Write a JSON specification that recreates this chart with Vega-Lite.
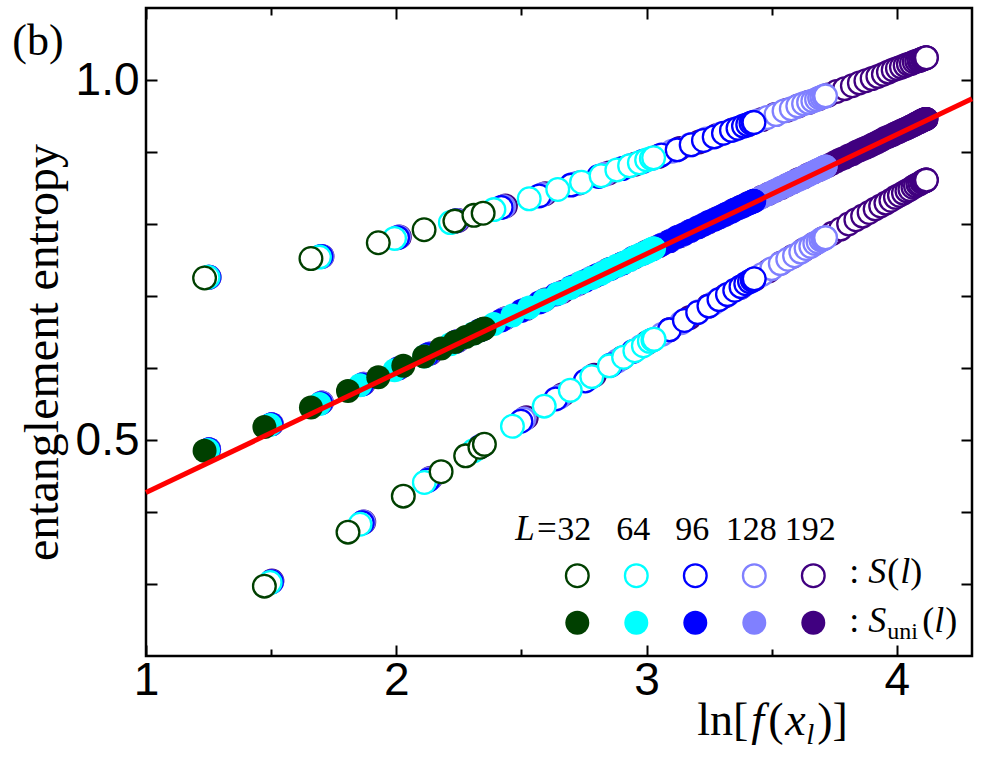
{
"$schema": "https://vega.github.io/schema/vega-lite/v6.json",
"width": 826, "height": 648,
"autosize": {"type": "none"},
"padding": {"left": 146, "top": 8, "right": 14, "bottom": 103},
"background": "white",
"config": {"view": {"stroke": "black", "strokeWidth": 2.5}, "axis": {"domain": false, "grid": false, "tickColor": "black", "tickWidth": 2, "labelColor": "black", "titleColor": "black", "labelFont": "Liberation Sans", "labelFontSize": 46, "labelFontWeight": "normal"}},
"datasets": {
"pts": [
{"L":"192","l":3,"x":1.252,"S":0.726,"Su":0.487},{"L":"192","l":4,"x":1.503,"S":0.304,"Su":0.522},{"L":"192","l":5,"x":1.703,"S":0.755,"Su":0.552},{"L":"192","l":6,"x":1.870,"S":0.386,"Su":0.578},{"L":"192","l":7,"x":2.012,"S":0.782,"Su":0.600},{"L":"192","l":8,"x":2.137,"S":0.447,"Su":0.620},{"L":"192","l":9,"x":2.247,"S":0.805,"Su":0.638},{"L":"192","l":10,"x":2.347,"S":0.493,"Su":0.654},{"L":"192","l":11,"x":2.436,"S":0.825,"Su":0.669},{"L":"192","l":12,"x":2.519,"S":0.531,"Su":0.682},{"L":"192","l":13,"x":2.595,"S":0.842,"Su":0.695},{"L":"192","l":14,"x":2.665,"S":0.563,"Su":0.706},{"L":"192","l":15,"x":2.730,"S":0.857,"Su":0.717},{"L":"192","l":16,"x":2.791,"S":0.590,"Su":0.727},{"L":"192","l":17,"x":2.849,"S":0.871,"Su":0.737},{"L":"192","l":18,"x":2.903,"S":0.614,"Su":0.745},{"L":"192","l":19,"x":2.954,"S":0.883,"Su":0.754},{"L":"192","l":20,"x":3.002,"S":0.635,"Su":0.762},{"L":"192","l":21,"x":3.048,"S":0.894,"Su":0.769},{"L":"192","l":22,"x":3.091,"S":0.653,"Su":0.776},{"L":"192","l":23,"x":3.132,"S":0.905,"Su":0.783},{"L":"192","l":24,"x":3.172,"S":0.670,"Su":0.790},{"L":"192","l":25,"x":3.210,"S":0.914,"Su":0.796},{"L":"192","l":26,"x":3.246,"S":0.686,"Su":0.802},{"L":"192","l":27,"x":3.281,"S":0.923,"Su":0.808},{"L":"192","l":28,"x":3.314,"S":0.700,"Su":0.813},{"L":"192","l":29,"x":3.346,"S":0.931,"Su":0.819},{"L":"192","l":30,"x":3.376,"S":0.712,"Su":0.824},{"L":"192","l":31,"x":3.406,"S":0.938,"Su":0.829},{"L":"192","l":32,"x":3.434,"S":0.724,"Su":0.833},{"L":"192","l":33,"x":3.461,"S":0.945,"Su":0.838},{"L":"192","l":34,"x":3.488,"S":0.735,"Su":0.842},{"L":"192","l":35,"x":3.513,"S":0.952,"Su":0.846},{"L":"192","l":36,"x":3.538,"S":0.746,"Su":0.850},{"L":"192","l":37,"x":3.561,"S":0.958,"Su":0.854},{"L":"192","l":38,"x":3.584,"S":0.755,"Su":0.858},{"L":"192","l":39,"x":3.606,"S":0.964,"Su":0.862},{"L":"192","l":40,"x":3.628,"S":0.764,"Su":0.865},{"L":"192","l":41,"x":3.648,"S":0.969,"Su":0.869},{"L":"192","l":42,"x":3.668,"S":0.772,"Su":0.872},{"L":"192","l":43,"x":3.688,"S":0.974,"Su":0.875},{"L":"192","l":44,"x":3.706,"S":0.780,"Su":0.878},{"L":"192","l":45,"x":3.725,"S":0.979,"Su":0.881},{"L":"192","l":46,"x":3.742,"S":0.787,"Su":0.884},{"L":"192","l":47,"x":3.759,"S":0.984,"Su":0.887},{"L":"192","l":48,"x":3.775,"S":0.793,"Su":0.890},{"L":"192","l":49,"x":3.791,"S":0.988,"Su":0.892},{"L":"192","l":50,"x":3.807,"S":0.800,"Su":0.895},{"L":"192","l":51,"x":3.822,"S":0.992,"Su":0.897},{"L":"192","l":52,"x":3.836,"S":0.806,"Su":0.900},{"L":"192","l":53,"x":3.850,"S":0.996,"Su":0.902},{"L":"192","l":54,"x":3.863,"S":0.811,"Su":0.904},{"L":"192","l":55,"x":3.876,"S":0.999,"Su":0.906},{"L":"192","l":56,"x":3.889,"S":0.816,"Su":0.908},{"L":"192","l":57,"x":3.901,"S":1.002,"Su":0.910},{"L":"192","l":58,"x":3.913,"S":0.821,"Su":0.912},{"L":"192","l":59,"x":3.924,"S":1.005,"Su":0.914},{"L":"192","l":60,"x":3.935,"S":0.825,"Su":0.916},{"L":"192","l":61,"x":3.946,"S":1.008,"Su":0.918},{"L":"192","l":62,"x":3.956,"S":0.829,"Su":0.920},{"L":"192","l":63,"x":3.966,"S":1.011,"Su":0.921},{"L":"192","l":64,"x":3.976,"S":0.833,"Su":0.923},{"L":"192","l":65,"x":3.985,"S":1.014,"Su":0.924},{"L":"192","l":66,"x":3.994,"S":0.837,"Su":0.926},{"L":"192","l":67,"x":4.002,"S":1.016,"Su":0.927},{"L":"192","l":68,"x":4.010,"S":0.840,"Su":0.928},{"L":"192","l":69,"x":4.018,"S":1.018,"Su":0.930},{"L":"192","l":70,"x":4.026,"S":0.843,"Su":0.931},{"L":"192","l":71,"x":4.033,"S":1.020,"Su":0.932},{"L":"192","l":72,"x":4.040,"S":0.846,"Su":0.933},{"L":"192","l":73,"x":4.046,"S":1.022,"Su":0.934},{"L":"192","l":74,"x":4.052,"S":0.848,"Su":0.935},{"L":"192","l":75,"x":4.058,"S":1.023,"Su":0.936},{"L":"192","l":76,"x":4.064,"S":0.851,"Su":0.937},{"L":"192","l":77,"x":4.069,"S":1.025,"Su":0.938},{"L":"192","l":78,"x":4.074,"S":0.853,"Su":0.939},{"L":"192","l":79,"x":4.079,"S":1.026,"Su":0.940},{"L":"192","l":80,"x":4.084,"S":0.855,"Su":0.941},{"L":"192","l":81,"x":4.088,"S":1.027,"Su":0.941},{"L":"192","l":82,"x":4.092,"S":0.856,"Su":0.942},{"L":"192","l":83,"x":4.095,"S":1.028,"Su":0.943},{"L":"192","l":84,"x":4.099,"S":0.858,"Su":0.943},{"L":"192","l":85,"x":4.102,"S":1.029,"Su":0.944},{"L":"192","l":86,"x":4.105,"S":0.859,"Su":0.944},{"L":"192","l":87,"x":4.107,"S":1.030,"Su":0.945},{"L":"192","l":88,"x":4.109,"S":0.860,"Su":0.945},{"L":"192","l":89,"x":4.111,"S":1.030,"Su":0.945},{"L":"192","l":90,"x":4.113,"S":0.860,"Su":0.946},{"L":"192","l":91,"x":4.115,"S":1.031,"Su":0.946},{"L":"192","l":92,"x":4.116,"S":0.861,"Su":0.946},{"L":"192","l":93,"x":4.117,"S":1.031,"Su":0.946},{"L":"192","l":94,"x":4.117,"S":0.861,"Su":0.946},{"L":"192","l":95,"x":4.118,"S":1.031,"Su":0.946},{"L":"192","l":96,"x":4.118,"S":0.861,"Su":0.946},
{"L":"128","l":3,"x":1.252,"S":0.726,"Su":0.487},{"L":"128","l":4,"x":1.502,"S":0.303,"Su":0.522},{"L":"128","l":5,"x":1.702,"S":0.755,"Su":0.552},{"L":"128","l":6,"x":1.868,"S":0.386,"Su":0.578},{"L":"128","l":7,"x":2.009,"S":0.782,"Su":0.600},{"L":"128","l":8,"x":2.133,"S":0.446,"Su":0.620},{"L":"128","l":9,"x":2.242,"S":0.805,"Su":0.637},{"L":"128","l":10,"x":2.340,"S":0.492,"Su":0.653},{"L":"128","l":11,"x":2.429,"S":0.824,"Su":0.668},{"L":"128","l":12,"x":2.510,"S":0.529,"Su":0.681},{"L":"128","l":13,"x":2.585,"S":0.841,"Su":0.693},{"L":"128","l":14,"x":2.653,"S":0.560,"Su":0.704},{"L":"128","l":15,"x":2.717,"S":0.856,"Su":0.715},{"L":"128","l":16,"x":2.776,"S":0.587,"Su":0.725},{"L":"128","l":17,"x":2.832,"S":0.869,"Su":0.734},{"L":"128","l":18,"x":2.884,"S":0.610,"Su":0.742},{"L":"128","l":19,"x":2.933,"S":0.881,"Su":0.750},{"L":"128","l":20,"x":2.979,"S":0.630,"Su":0.758},{"L":"128","l":21,"x":3.022,"S":0.891,"Su":0.765},{"L":"128","l":22,"x":3.063,"S":0.647,"Su":0.772},{"L":"128","l":23,"x":3.102,"S":0.901,"Su":0.778},{"L":"128","l":24,"x":3.139,"S":0.663,"Su":0.784},{"L":"128","l":25,"x":3.174,"S":0.910,"Su":0.790},{"L":"128","l":26,"x":3.207,"S":0.678,"Su":0.796},{"L":"128","l":27,"x":3.238,"S":0.918,"Su":0.801},{"L":"128","l":28,"x":3.268,"S":0.690,"Su":0.806},{"L":"128","l":29,"x":3.297,"S":0.925,"Su":0.810},{"L":"128","l":30,"x":3.324,"S":0.702,"Su":0.815},{"L":"128","l":31,"x":3.350,"S":0.931,"Su":0.819},{"L":"128","l":32,"x":3.375,"S":0.712,"Su":0.823},{"L":"128","l":33,"x":3.398,"S":0.937,"Su":0.827},{"L":"128","l":34,"x":3.420,"S":0.721,"Su":0.831},{"L":"128","l":35,"x":3.442,"S":0.943,"Su":0.834},{"L":"128","l":36,"x":3.462,"S":0.730,"Su":0.838},{"L":"128","l":37,"x":3.482,"S":0.948,"Su":0.841},{"L":"128","l":38,"x":3.500,"S":0.738,"Su":0.844},{"L":"128","l":39,"x":3.517,"S":0.952,"Su":0.847},{"L":"128","l":40,"x":3.534,"S":0.745,"Su":0.850},{"L":"128","l":41,"x":3.549,"S":0.957,"Su":0.852},{"L":"128","l":42,"x":3.564,"S":0.751,"Su":0.855},{"L":"128","l":43,"x":3.578,"S":0.960,"Su":0.857},{"L":"128","l":44,"x":3.591,"S":0.756,"Su":0.859},{"L":"128","l":45,"x":3.604,"S":0.964,"Su":0.861},{"L":"128","l":46,"x":3.616,"S":0.761,"Su":0.863},{"L":"128","l":47,"x":3.627,"S":0.967,"Su":0.865},{"L":"128","l":48,"x":3.637,"S":0.766,"Su":0.867},{"L":"128","l":49,"x":3.647,"S":0.969,"Su":0.868},{"L":"128","l":50,"x":3.656,"S":0.769,"Su":0.870},{"L":"128","l":51,"x":3.664,"S":0.971,"Su":0.871},{"L":"128","l":52,"x":3.672,"S":0.773,"Su":0.873},{"L":"128","l":53,"x":3.679,"S":0.973,"Su":0.874},{"L":"128","l":54,"x":3.685,"S":0.775,"Su":0.875},{"L":"128","l":55,"x":3.691,"S":0.975,"Su":0.876},{"L":"128","l":56,"x":3.696,"S":0.778,"Su":0.876},{"L":"128","l":57,"x":3.700,"S":0.976,"Su":0.877},{"L":"128","l":58,"x":3.704,"S":0.779,"Su":0.878},{"L":"128","l":59,"x":3.708,"S":0.977,"Su":0.878},{"L":"128","l":60,"x":3.710,"S":0.780,"Su":0.879},{"L":"128","l":61,"x":3.712,"S":0.978,"Su":0.879},{"L":"128","l":62,"x":3.714,"S":0.781,"Su":0.879},{"L":"128","l":63,"x":3.715,"S":0.978,"Su":0.880},{"L":"128","l":64,"x":3.715,"S":0.781,"Su":0.880},
{"L":"96","l":3,"x":1.251,"S":0.726,"Su":0.487},{"L":"96","l":4,"x":1.501,"S":0.303,"Su":0.522},{"L":"96","l":5,"x":1.699,"S":0.755,"Su":0.551},{"L":"96","l":6,"x":1.864,"S":0.385,"Su":0.577},{"L":"96","l":7,"x":2.005,"S":0.781,"Su":0.599},{"L":"96","l":8,"x":2.127,"S":0.444,"Su":0.619},{"L":"96","l":9,"x":2.235,"S":0.804,"Su":0.636},{"L":"96","l":10,"x":2.332,"S":0.490,"Su":0.652},{"L":"96","l":11,"x":2.419,"S":0.823,"Su":0.666},{"L":"96","l":12,"x":2.498,"S":0.526,"Su":0.679},{"L":"96","l":13,"x":2.571,"S":0.839,"Su":0.691},{"L":"96","l":14,"x":2.637,"S":0.557,"Su":0.702},{"L":"96","l":15,"x":2.698,"S":0.854,"Su":0.712},{"L":"96","l":16,"x":2.755,"S":0.582,"Su":0.721},{"L":"96","l":17,"x":2.808,"S":0.866,"Su":0.730},{"L":"96","l":18,"x":2.857,"S":0.604,"Su":0.738},{"L":"96","l":19,"x":2.903,"S":0.877,"Su":0.745},{"L":"96","l":20,"x":2.946,"S":0.623,"Su":0.753},{"L":"96","l":21,"x":2.986,"S":0.887,"Su":0.759},{"L":"96","l":22,"x":3.023,"S":0.639,"Su":0.765},{"L":"96","l":23,"x":3.059,"S":0.896,"Su":0.771},{"L":"96","l":24,"x":3.091,"S":0.653,"Su":0.776},{"L":"96","l":25,"x":3.122,"S":0.903,"Su":0.782},{"L":"96","l":26,"x":3.151,"S":0.666,"Su":0.786},{"L":"96","l":27,"x":3.178,"S":0.910,"Su":0.791},{"L":"96","l":28,"x":3.204,"S":0.677,"Su":0.795},{"L":"96","l":29,"x":3.227,"S":0.916,"Su":0.799},{"L":"96","l":30,"x":3.249,"S":0.686,"Su":0.803},{"L":"96","l":31,"x":3.270,"S":0.921,"Su":0.806},{"L":"96","l":32,"x":3.289,"S":0.695,"Su":0.809},{"L":"96","l":33,"x":3.307,"S":0.926,"Su":0.812},{"L":"96","l":34,"x":3.323,"S":0.702,"Su":0.815},{"L":"96","l":35,"x":3.339,"S":0.930,"Su":0.817},{"L":"96","l":36,"x":3.352,"S":0.708,"Su":0.820},{"L":"96","l":37,"x":3.365,"S":0.933,"Su":0.822},{"L":"96","l":38,"x":3.377,"S":0.713,"Su":0.824},{"L":"96","l":39,"x":3.387,"S":0.936,"Su":0.825},{"L":"96","l":40,"x":3.396,"S":0.717,"Su":0.827},{"L":"96","l":41,"x":3.404,"S":0.938,"Su":0.828},{"L":"96","l":42,"x":3.411,"S":0.720,"Su":0.829},{"L":"96","l":43,"x":3.417,"S":0.940,"Su":0.830},{"L":"96","l":44,"x":3.422,"S":0.722,"Su":0.831},{"L":"96","l":45,"x":3.425,"S":0.941,"Su":0.832},{"L":"96","l":46,"x":3.428,"S":0.723,"Su":0.832},{"L":"96","l":47,"x":3.429,"S":0.941,"Su":0.832},{"L":"96","l":48,"x":3.430,"S":0.724,"Su":0.832},
{"L":"64","l":3,"x":1.248,"S":0.726,"Su":0.486},{"L":"64","l":4,"x":1.496,"S":0.302,"Su":0.521},{"L":"64","l":5,"x":1.693,"S":0.754,"Su":0.550},{"L":"64","l":6,"x":1.855,"S":0.383,"Su":0.576},{"L":"64","l":7,"x":1.993,"S":0.780,"Su":0.597},{"L":"64","l":8,"x":2.112,"S":0.441,"Su":0.616},{"L":"64","l":9,"x":2.216,"S":0.802,"Su":0.633},{"L":"64","l":10,"x":2.308,"S":0.485,"Su":0.648},{"L":"64","l":11,"x":2.390,"S":0.820,"Su":0.661},{"L":"64","l":12,"x":2.464,"S":0.519,"Su":0.673},{"L":"64","l":13,"x":2.531,"S":0.835,"Su":0.684},{"L":"64","l":14,"x":2.591,"S":0.547,"Su":0.694},{"L":"64","l":15,"x":2.645,"S":0.848,"Su":0.703},{"L":"64","l":16,"x":2.695,"S":0.569,"Su":0.711},{"L":"64","l":17,"x":2.740,"S":0.858,"Su":0.719},{"L":"64","l":18,"x":2.781,"S":0.588,"Su":0.725},{"L":"64","l":19,"x":2.818,"S":0.867,"Su":0.731},{"L":"64","l":20,"x":2.851,"S":0.603,"Su":0.737},{"L":"64","l":21,"x":2.881,"S":0.875,"Su":0.742},{"L":"64","l":22,"x":2.908,"S":0.615,"Su":0.746},{"L":"64","l":23,"x":2.932,"S":0.881,"Su":0.750},{"L":"64","l":24,"x":2.953,"S":0.624,"Su":0.754},{"L":"64","l":25,"x":2.971,"S":0.885,"Su":0.757},{"L":"64","l":26,"x":2.987,"S":0.631,"Su":0.759},{"L":"64","l":27,"x":3.000,"S":0.889,"Su":0.761},{"L":"64","l":28,"x":3.011,"S":0.637,"Su":0.763},{"L":"64","l":29,"x":3.019,"S":0.891,"Su":0.765},{"L":"64","l":30,"x":3.025,"S":0.639,"Su":0.766},{"L":"64","l":31,"x":3.028,"S":0.892,"Su":0.766},{"L":"64","l":32,"x":3.030,"S":0.640,"Su":0.766},
{"L":"32","l":3,"x":1.234,"S":0.725,"Su":0.485},{"L":"32","l":4,"x":1.473,"S":0.297,"Su":0.518},{"L":"32","l":5,"x":1.659,"S":0.752,"Su":0.545},{"L":"32","l":6,"x":1.807,"S":0.372,"Su":0.568},{"L":"32","l":7,"x":1.928,"S":0.774,"Su":0.587},{"L":"32","l":8,"x":2.028,"S":0.422,"Su":0.603},{"L":"32","l":9,"x":2.111,"S":0.792,"Su":0.616},{"L":"32","l":10,"x":2.179,"S":0.456,"Su":0.627},{"L":"32","l":11,"x":2.234,"S":0.804,"Su":0.636},{"L":"32","l":12,"x":2.277,"S":0.478,"Su":0.643},{"L":"32","l":13,"x":2.310,"S":0.812,"Su":0.648},{"L":"32","l":14,"x":2.334,"S":0.490,"Su":0.652},{"L":"32","l":15,"x":2.347,"S":0.815,"Su":0.654},{"L":"32","l":16,"x":2.352,"S":0.494,"Su":0.655}
],
"fit": [{"x": 1.0, "y": 0.427}, {"x": 4.3, "y": 0.974}],
"leg": [{"L":"32"},{"L":"64"},{"L":"96"},{"L":"128"},{"L":"192"}]
},
"layer": [
{
"layer": [
{
"data": {"name": "pts"},
"mark": {"type": "point", "shape": "circle", "size": 515, "strokeWidth": 2.3, "fill": "white", "fillOpacity": 1, "opacity": 1},
"encoding": {
"x": {"field": "x", "type": "quantitative", "scale": {"domain": [1, 4.3], "nice": false, "zero": false},
 "axis": {"orient": "bottom", "values": [1, 1.5, 2, 2.5, 3, 3.5, 4], "labelExpr": "datum.value % 1 == 0 ? format(datum.value, 'd') : ''", "tickSize": {"condition": {"test": "datum.value % 1 == 0", "value": -11}, "value": -7}, "labelPadding": 13, "labelFlush": false, "labelOverlap": false, "title": null}},
"y": {"field": "S", "type": "quantitative", "scale": {"domain": [0.2, 1.1], "nice": false, "zero": false},
 "axis": {"orient": "left", "values": [0.3, 0.4, 0.5, 0.6, 0.7, 0.8, 0.9, 1.0], "labelExpr": "(datum.value == 0.5 || datum.value == 1) ? format(datum.value, '.1f') : ''", "tickSize": -11, "labelPadding": 18, "labelFlush": false, "labelOverlap": false,
  "title": "entanglement entropy", "titleFont": "Liberation Serif", "titleFontSize": 48, "titleFontWeight": "normal", "titleAngle": 270, "titleAlign": "center", "titleBaseline": "alphabetic", "titleX": -89, "titleY": 344}},
"stroke": {"field": "L", "type": "nominal", "scale": {"domain": ["32","64","96","128","192"], "range": ["#004000","#00ffff","#0000ff","#8080ff","#400080"]}, "legend": null}
}
},
{
"data": {"name": "pts"},
"mark": {"type": "point", "shape": "circle", "size": 576, "filled": true, "opacity": 1, "strokeWidth": 0},
"encoding": {
"x": {"field": "x", "type": "quantitative", "axis": null},
"y": {"field": "Su", "type": "quantitative", "axis": null},
"fill": {"field": "L", "type": "nominal", "scale": {"domain": ["32","64","96","128","192"], "range": ["#004000","#00ffff","#0000ff","#8080ff","#400080"]}, "legend": null}
}
},
{
"data": {"name": "fit"},
"mark": {"type": "line", "color": "#ff0000", "strokeWidth": 5},
"encoding": {
"x": {"field": "x", "type": "quantitative", "axis": {"orient": "top", "values": [1, 1.5, 2, 2.5, 3, 3.5, 4], "labels": false, "tickSize": {"condition": {"test": "datum.value % 1 == 0", "value": -11}, "value": -7}, "title": null}},
"y": {"field": "y", "type": "quantitative", "axis": {"orient": "right", "values": [0.3, 0.4, 0.5, 0.6, 0.7, 0.8, 0.9, 1.0], "labels": false, "tickSize": -11, "title": null}}
}
}
],
"resolve": {"axis": {"x": "independent", "y": "independent"}}
},
{
"layer": [
{
"data": {"name": "leg"},
"mark": {"type": "point", "shape": "circle", "size": 515, "strokeWidth": 2.3, "fill": "white", "fillOpacity": 1, "opacity": 1},
"encoding": {
"x": {"field": "L", "type": "ordinal", "scale": {"type": "point", "domain": ["32","64","96","128","192","lab"], "range": [431.3, 726.3], "padding": 0}, "axis": null},
"y": {"datum": "S", "type": "ordinal", "scale": {"type": "point", "domain": ["S","Suni"], "range": [567.7, 614.7], "padding": 0}, "axis": null},
"stroke": {"field": "L", "type": "nominal", "scale": {"domain": ["32","64","96","128","192"], "range": ["#004000","#00ffff","#0000ff","#8080ff","#400080"]}, "legend": null}
}
},
{
"data": {"name": "leg"},
"mark": {"type": "point", "shape": "circle", "size": 576, "filled": true, "opacity": 1, "strokeWidth": 0},
"encoding": {
"x": {"field": "L", "type": "ordinal", "axis": null},
"y": {"datum": "Suni", "type": "ordinal", "axis": null},
"fill": {"field": "L", "type": "nominal", "scale": {"domain": ["32","64","96","128","192"], "range": ["#004000","#00ffff","#0000ff","#8080ff","#400080"]}, "legend": null}
}
},
{
"data": {"name": "leg"},
"mark": {"type": "text", "font": "Liberation Serif", "fontSize": 34, "align": "center", "baseline": "alphabetic", "dx": -3, "dy": -36, "color": "black"},
"encoding": {"x": {"field": "L", "type": "ordinal", "axis": null}, "y": {"datum": "S", "type": "ordinal", "axis": null}, "text": {"field": "L"}}
},
{"data": {"values": [{}]}, "mark": {"type": "text", "text": "L=", "font": "Liberation Serif", "fontStyle": "italic", "fontSize": 35, "align": "right", "baseline": "alphabetic", "dx": -19, "dy": -36, "color": "black"},
 "encoding": {"x": {"datum": "32", "type": "ordinal", "axis": null}, "y": {"datum": "S", "type": "ordinal", "axis": null}}},
{"data": {"values": [{}]}, "mark": {"type": "text", "text": "(b)", "font": "Liberation Serif", "fontSize": 44, "align": "left", "baseline": "alphabetic", "dx": -565, "dy": -521, "color": "black"},
 "encoding": {"x": {"datum": "32", "type": "ordinal", "axis": null}, "y": {"datum": "S", "type": "ordinal", "axis": null}}},
{"data": {"values": [{}]}, "mark": {"type": "text", "text": ":", "font": "Liberation Serif", "fontSize": 36, "align": "left", "baseline": "alphabetic", "dx": -23, "dy": 7, "color": "black"},
 "encoding": {"x": {"datum": "lab", "type": "ordinal", "axis": null}, "y": {"datum": "S", "type": "ordinal", "axis": null}}},
{"data": {"values": [{}]}, "mark": {"type": "text", "text": "S", "font": "Liberation Serif", "fontStyle": "italic", "fontSize": 36, "align": "left", "baseline": "alphabetic", "dx": -4, "dy": 7, "color": "black"},
 "encoding": {"x": {"datum": "lab", "type": "ordinal", "axis": null}, "y": {"datum": "S", "type": "ordinal", "axis": null}}},
{"data": {"values": [{}]}, "mark": {"type": "text", "text": "(", "font": "Liberation Serif", "fontSize": 36, "align": "left", "baseline": "alphabetic", "dx": 15, "dy": 7, "color": "black"},
 "encoding": {"x": {"datum": "lab", "type": "ordinal", "axis": null}, "y": {"datum": "S", "type": "ordinal", "axis": null}}},
{"data": {"values": [{}]}, "mark": {"type": "text", "text": "l", "font": "Liberation Serif", "fontStyle": "italic", "fontSize": 36, "align": "left", "baseline": "alphabetic", "dx": 28, "dy": 7, "color": "black"},
 "encoding": {"x": {"datum": "lab", "type": "ordinal", "axis": null}, "y": {"datum": "S", "type": "ordinal", "axis": null}}},
{"data": {"values": [{}]}, "mark": {"type": "text", "text": ")", "font": "Liberation Serif", "fontSize": 36, "align": "left", "baseline": "alphabetic", "dx": 38, "dy": 7, "color": "black"},
 "encoding": {"x": {"datum": "lab", "type": "ordinal", "axis": null}, "y": {"datum": "S", "type": "ordinal", "axis": null}}},
{"data": {"values": [{}]}, "mark": {"type": "text", "text": ":", "font": "Liberation Serif", "fontSize": 36, "align": "left", "baseline": "alphabetic", "dx": -23, "dy": 9, "color": "black"},
 "encoding": {"x": {"datum": "lab", "type": "ordinal", "axis": null}, "y": {"datum": "Suni", "type": "ordinal", "axis": null}}},
{"data": {"values": [{}]}, "mark": {"type": "text", "text": "S", "font": "Liberation Serif", "fontStyle": "italic", "fontSize": 36, "align": "left", "baseline": "alphabetic", "dx": -4, "dy": 9, "color": "black"},
 "encoding": {"x": {"datum": "lab", "type": "ordinal", "axis": null}, "y": {"datum": "Suni", "type": "ordinal", "axis": null}}},
{"data": {"values": [{}]}, "mark": {"type": "text", "text": "uni", "font": "Liberation Serif", "fontSize": 24, "align": "left", "baseline": "alphabetic", "dx": 15, "dy": 16, "color": "black"},
 "encoding": {"x": {"datum": "lab", "type": "ordinal", "axis": null}, "y": {"datum": "Suni", "type": "ordinal", "axis": null}}},
{"data": {"values": [{}]}, "mark": {"type": "text", "text": "(", "font": "Liberation Serif", "fontSize": 36, "align": "left", "baseline": "alphabetic", "dx": 50, "dy": 9, "color": "black"},
 "encoding": {"x": {"datum": "lab", "type": "ordinal", "axis": null}, "y": {"datum": "Suni", "type": "ordinal", "axis": null}}},
{"data": {"values": [{}]}, "mark": {"type": "text", "text": "l", "font": "Liberation Serif", "fontStyle": "italic", "fontSize": 36, "align": "left", "baseline": "alphabetic", "dx": 62, "dy": 9, "color": "black"},
 "encoding": {"x": {"datum": "lab", "type": "ordinal", "axis": null}, "y": {"datum": "Suni", "type": "ordinal", "axis": null}}},
{"data": {"values": [{}]}, "mark": {"type": "text", "text": ")", "font": "Liberation Serif", "fontSize": 36, "align": "left", "baseline": "alphabetic", "dx": 73, "dy": 9, "color": "black"},
 "encoding": {"x": {"datum": "lab", "type": "ordinal", "axis": null}, "y": {"datum": "Suni", "type": "ordinal", "axis": null}}},
{"data": {"values": [{}]}, "mark": {"type": "text", "text": "ln[", "font": "Liberation Serif", "fontSize": 46, "align": "left", "baseline": "alphabetic", "dx": -175, "dy": 112, "color": "black"},
 "encoding": {"x": {"datum": "lab", "type": "ordinal", "axis": null}, "y": {"datum": "Suni", "type": "ordinal", "axis": null}}},
{"data": {"values": [{}]}, "mark": {"type": "text", "text": "f", "font": "Liberation Serif", "fontStyle": "italic", "fontSize": 46, "align": "left", "baseline": "alphabetic", "dx": -121, "dy": 112, "color": "black"},
 "encoding": {"x": {"datum": "lab", "type": "ordinal", "axis": null}, "y": {"datum": "Suni", "type": "ordinal", "axis": null}}},
{"data": {"values": [{}]}, "mark": {"type": "text", "text": "(", "font": "Liberation Serif", "fontSize": 46, "align": "left", "baseline": "alphabetic", "dx": -104, "dy": 112, "color": "black"},
 "encoding": {"x": {"datum": "lab", "type": "ordinal", "axis": null}, "y": {"datum": "Suni", "type": "ordinal", "axis": null}}},
{"data": {"values": [{}]}, "mark": {"type": "text", "text": "x", "font": "Liberation Serif", "fontStyle": "italic", "fontSize": 46, "align": "left", "baseline": "alphabetic", "dx": -87, "dy": 112, "color": "black"},
 "encoding": {"x": {"datum": "lab", "type": "ordinal", "axis": null}, "y": {"datum": "Suni", "type": "ordinal", "axis": null}}},
{"data": {"values": [{}]}, "mark": {"type": "text", "text": "l", "font": "Liberation Serif", "fontStyle": "italic", "fontSize": 29, "align": "left", "baseline": "alphabetic", "dx": -66, "dy": 121, "color": "black"},
 "encoding": {"x": {"datum": "lab", "type": "ordinal", "axis": null}, "y": {"datum": "Suni", "type": "ordinal", "axis": null}}},
{"data": {"values": [{}]}, "mark": {"type": "text", "text": ")]", "font": "Liberation Serif", "fontSize": 46, "align": "left", "baseline": "alphabetic", "dx": -55, "dy": 112, "color": "black"},
 "encoding": {"x": {"datum": "lab", "type": "ordinal", "axis": null}, "y": {"datum": "Suni", "type": "ordinal", "axis": null}}}
]
}
],
"resolve": {"scale": {"x": "independent", "y": "independent"}}
}
